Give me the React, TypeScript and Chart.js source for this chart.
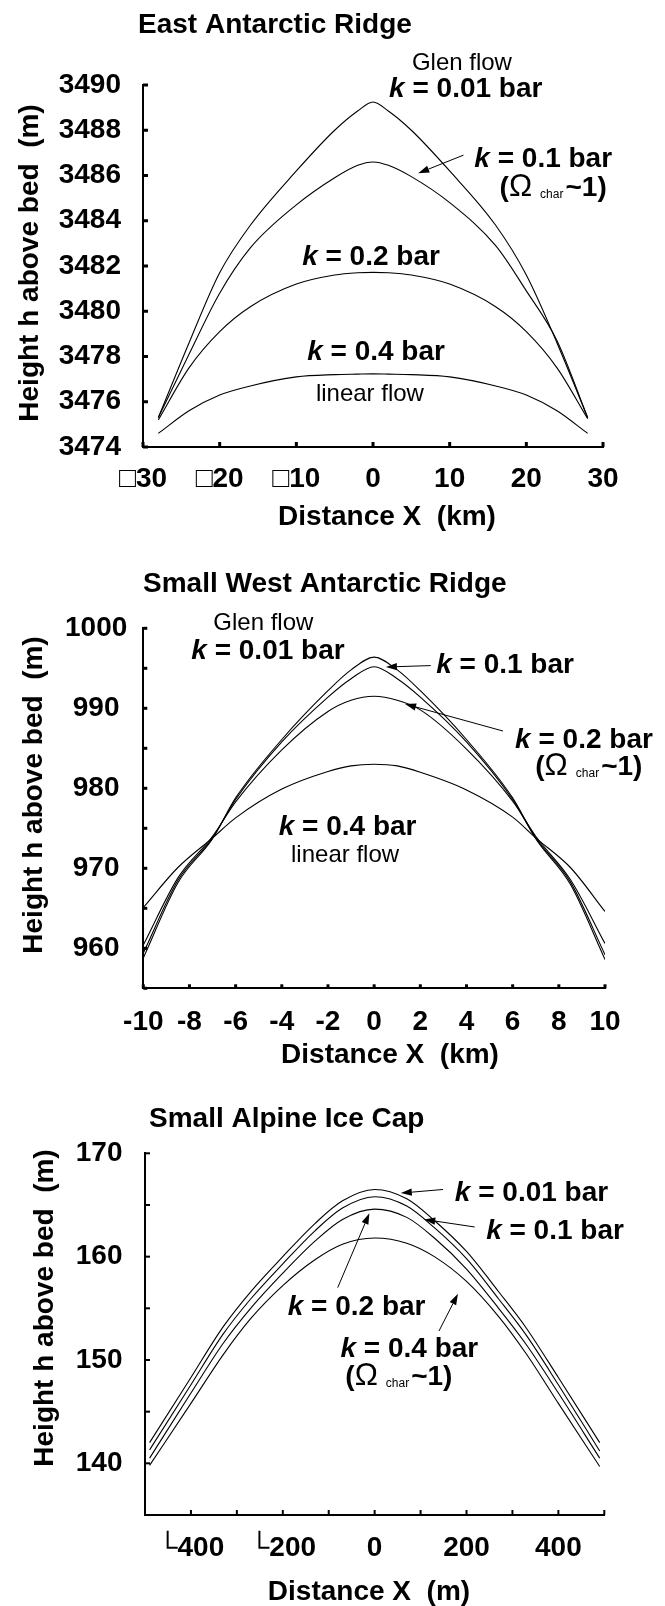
import React, { useEffect, useRef } from 'react';
import { Chart, registerables } from 'chart.js';

Chart.register(...registerables);

const FONT = "'Liberation Sans', Arial, Helvetica, sans-serif";

// ---------- East Antarctic Ridge (km, m) ----------
const eastX = [-28, -24, -20, -16, -10, -5, -2, 0, 2, 5, 10, 16, 20, 24, 28];
const eastK001 = [3475.3, 3478.6, 3481.7, 3483.8, 3486.2, 3488.0, 3488.85, 3489.25, 3488.85, 3488.0, 3486.2, 3483.8, 3481.6, 3478.6, 3475.3];
const eastK01 = [3475.3, 3478.1, 3480.8, 3482.8, 3484.7, 3485.9, 3486.45, 3486.6, 3486.45, 3485.95, 3484.8, 3482.9, 3480.9, 3478.7, 3475.3];
const eastK02 = [3475.2, 3477.5, 3479.1, 3480.2, 3481.2, 3481.6, 3481.7, 3481.72, 3481.7, 3481.6, 3481.2, 3480.2, 3479.1, 3477.5, 3475.25];
const eastK04 = [3474.6, 3475.6, 3476.3, 3476.7, 3477.1, 3477.2, 3477.22, 3477.23, 3477.22, 3477.2, 3477.1, 3476.7, 3476.3, 3475.6, 3474.6];

// ---------- Small West Antarctic Ridge (km, m) ----------
const westX = [-10, -8.5, -7, -6, -4, -2, -1, 0, 1, 2, 4, 6, 7, 8.5, 10];
const westK001 = [958.8, 968.2, 973.7, 978.8, 986.1, 992.2, 994.8, 996.4, 994.8, 992.2, 986.1, 978.8, 973.7, 968.0, 958.6];
const westK01 = [959.4, 968.5, 973.8, 978.6, 985.8, 991.4, 993.7, 995.2, 993.7, 991.4, 985.8, 978.6, 973.8, 968.3, 959.2];
const westK02 = [960.4, 968.8, 974.0, 978.3, 984.8, 989.6, 991.0, 991.5, 991.0, 989.8, 984.9, 978.4, 974.0, 968.6, 960.6];
const westK04 = [965.1, 970.1, 973.8, 976.3, 979.9, 982.1, 982.8, 983.0, 982.8, 982.0, 979.8, 976.4, 973.8, 970.1, 964.6];

// ---------- Small Alpine Ice Cap (m, m) ----------
const alpX = [-490, -400, -330, -270, -200, -130, -70, 0, 70, 130, 200, 270, 330, 400, 490];
const alpK001 = [142.0, 148.3, 153.2, 156.6, 160.0, 163.2, 165.4, 166.5, 165.6, 163.5, 160.5, 156.6, 153.1, 148.3, 142.0];
const alpK01 = [141.3, 147.6, 152.5, 155.9, 159.3, 162.5, 164.7, 165.8, 164.9, 162.8, 159.8, 155.9, 152.4, 147.6, 141.2];
const alpK02 = [140.5, 146.8, 151.6, 155.0, 158.4, 161.5, 163.6, 164.6, 163.8, 161.8, 158.8, 155.0, 151.5, 146.8, 140.5];
const alpK04 = [139.8, 145.8, 150.5, 154.0, 157.2, 159.7, 161.2, 161.8, 161.3, 160.0, 157.6, 154.2, 150.6, 145.8, 139.7];

// ---------- text labels ----------
const titles = ['East Antarctic Ridge', 'Small West Antarctic Ridge', 'Small Alpine Ice Cap'];
const xTitles = ['Distance X  (km)', 'Distance X  (km)', 'Distance X  (m)'];
const yTitle = 'Height h above bed  (m)';

type Note =
  | { kind: 'k'; value: string; x: number; y: number }
  | { kind: 'plain'; text: string; x: number; y: number }
  | { kind: 'omega'; x: number; y: number };
type Arrow = { x1: number; y1: number; x2: number; y2: number };

// annotation anchors in data units
const eastNotes: Note[] = [
  { kind: 'plain', text: 'Glen flow', x: 11.6, y: 3491.06 },
  { kind: 'k', value: '0.01', x: 12.1, y: 3489.9 },
  { kind: 'k', value: '0.1', x: 22.2, y: 3486.82 },
  { kind: 'omega', x: 23.5, y: 3485.4 },
  { kind: 'k', value: '0.2', x: -0.26, y: 3482.5 },
  { kind: 'k', value: '0.4', x: 0.4, y: 3478.3 },
  { kind: 'plain', text: 'linear flow', x: -0.4, y: 3476.4 },
];
const eastArrows: Arrow[] = [{ x1: 11.8, y1: 3486.9, x2: 5.9, y2: 3486.1 }];

const westNotes: Note[] = [
  { kind: 'plain', text: 'Glen flow', x: -4.8, y: 1000.9 },
  { kind: 'k', value: '0.01', x: -4.6, y: 997.45 },
  { kind: 'k', value: '0.1', x: 5.67, y: 995.66 },
  { kind: 'k', value: '0.2', x: 9.09, y: 986.3 },
  { kind: 'omega', x: 9.3, y: 982.5 },
  { kind: 'k', value: '0.4', x: -1.15, y: 975.4 },
  { kind: 'plain', text: 'linear flow', x: -1.26, y: 971.9 },
];
const westArrows: Arrow[] = [
  { x1: 2.45, y1: 995.34, x2: 0.51, y2: 995.16 },
  { x1: 5.58, y1: 987.16, x2: 1.34, y2: 990.54 },
];

const alpNotes: Note[] = [
  { kind: 'k', value: '0.01', x: 341.5, y: 166.4 },
  { kind: 'k', value: '0.1', x: 392.7, y: 162.7 },
  { kind: 'k', value: '0.2', x: -39.3, y: 155.3 },
  { kind: 'k', value: '0.4', x: 75.5, y: 151.26 },
  { kind: 'omega', x: 52.8, y: 148.24 },
];
const alpArrows: Arrow[] = [
  { x1: 149, y1: 166.5, x2: 57, y2: 166.15 },
  { x1: 217.8, y1: 162.87, x2: 107.9, y2: 163.6 },
  { x1: -80.5, y1: 157.0, x2: -11.5, y2: 164.2 },
  { x1: 140, y1: 152.8, x2: 181.3, y2: 156.4 },
];

interface Spec {
  top: number;
  height: number;
  xs: number[];
  series: number[][];
  xMin: number; xMax: number; xStep: number;
  yMin: number; yMax: number; yStep: number;
  xLabel: (v: number) => string;
  yLabel: (v: number) => string;
  area: { left: number; right: number; top: number; bottom: number };
  xPad: number; yPad: number;
  tickLen: number; tickW: number;
  title: string; titleX: number; titleBase: number; titleSize: number;
  xTitle: string; xTitleX: number; xTitleBase: number;
  yTitleX: number; yTitleY: number;
  notes: Note[]; arrows: Arrow[];
}

const neg = (glyph: string) => (v: number) => (v < 0 ? glyph + String(-v) : String(v));

const specs: Spec[] = [
  {
    top: 0, height: 540, xs: eastX, series: [eastK001, eastK01, eastK02, eastK04],
    xMin: -30, xMax: 30, xStep: 10, yMin: 3474, yMax: 3490, yStep: 2,
    xLabel: neg('\u25A1'), yLabel: (v) => String(v),
    area: { left: 143, right: 603, top: 85, bottom: 447 },
    xPad: 7, yPad: 14, tickLen: 5, tickW: 3,
    title: titles[0], titleX: 138, titleBase: 33, titleSize: 28,
    xTitle: xTitles[0], xTitleX: 387, xTitleBase: 525,
    yTitleX: 30, yTitleY: 263,
    notes: eastNotes, arrows: eastArrows,
  },
  {
    top: 540, height: 540, xs: westX, series: [westK001, westK01, westK02, westK04],
    xMin: -10, xMax: 10, xStep: 2, yMin: 955, yMax: 1000, yStep: 5,
    xLabel: (v) => String(v), yLabel: (v) => (v % 10 === 0 ? String(v) : ''),
    area: { left: 143.3, right: 605, top: 88.3, bottom: 448.3 },
    xPad: 9, yPad: 8, tickLen: 4, tickW: 3,
    title: titles[1], titleX: 143, titleBase: 52, titleSize: 28,
    xTitle: xTitles[1], xTitleX: 390, xTitleBase: 523,
    yTitleX: 34, yTitleY: 255,
    notes: westNotes, arrows: westArrows,
  },
  {
    top: 1080, height: 526, xs: alpX, series: [alpK001, alpK01, alpK02, alpK04],
    xMin: -500, xMax: 500, xStep: 100, yMin: 135, yMax: 170, yStep: 5,
    xLabel: (v) => (v % 200 === 0 && Math.abs(v) < 500 ? neg('\u2514')(v) : ''),
    yLabel: (v) => (v % 10 === 0 ? String(v) : ''),
    area: { left: 145, right: 604.3, top: 73.3, bottom: 435 },
    xPad: 8, yPad: 14.5, tickLen: 5, tickW: 2,
    title: titles[2], titleX: 149, titleBase: 47, titleSize: 28,
    xTitle: xTitles[2], xTitleX: 369, xTitleBase: 520,
    yTitleX: 45, yTitleY: 228,
    notes: alpNotes, arrows: alpArrows,
  },
];

function drawArrow(ctx: CanvasRenderingContext2D, x1: number, y1: number, x2: number, y2: number) {
  const ang = Math.atan2(y2 - y1, x2 - x1);
  const L = 11;
  const W = 3.6;
  const bx = x2 - L * Math.cos(ang);
  const by = y2 - L * Math.sin(ang);
  ctx.lineWidth = 1;
  ctx.beginPath();
  ctx.moveTo(x1, y1);
  ctx.lineTo(bx, by);
  ctx.stroke();
  ctx.beginPath();
  ctx.moveTo(x2, y2);
  ctx.lineTo(bx + W * Math.sin(ang), by - W * Math.cos(ang));
  ctx.lineTo(bx - W * Math.sin(ang), by + W * Math.cos(ang));
  ctx.closePath();
  ctx.fill();
}

function drawPieces(ctx: CanvasRenderingContext2D, pieces: { t: string; f: string; dy?: number; gap?: number }[], cx: number, base: number) {
  let total = 0;
  const widths = pieces.map((p) => {
    ctx.font = p.f;
    const w = ctx.measureText(p.t).width + (p.gap || 0);
    total += w;
    return w;
  });
  let x = cx - total / 2;
  ctx.textAlign = 'left';
  ctx.textBaseline = 'alphabetic';
  pieces.forEach((p, i) => {
    ctx.font = p.f;
    ctx.fillText(p.t, x, base + (p.dy || 0));
    x += widths[i];
  });
}

function makeDecor(s: Spec) {
  return {
    id: 'decor',
    beforeDraw(chart: any) {
      const ctx = chart.ctx;
      ctx.save();
      ctx.fillStyle = '#fff';
      ctx.fillRect(0, 0, chart.width, chart.height);
      ctx.restore();
    },
    afterDraw(chart: any) {
      const ctx: CanvasRenderingContext2D = chart.ctx;
      const xs = chart.scales.x;
      const ys = chart.scales.y;
      const ca = chart.chartArea;
      ctx.save();
      ctx.fillStyle = '#000';
      ctx.strokeStyle = '#000';
      // inward tick marks
      for (const t of xs.ticks) {
        const px = xs.getPixelForValue(t.value);
        ctx.fillRect(px - s.tickW / 2, ca.bottom - s.tickLen, s.tickW, s.tickLen);
      }
      for (const t of ys.ticks) {
        const py = ys.getPixelForValue(t.value);
        ctx.fillRect(ca.left, py - s.tickW / 2, s.tickLen, s.tickW);
      }
      // chart title
      ctx.textAlign = 'left';
      ctx.textBaseline = 'alphabetic';
      ctx.font = `bold ${s.titleSize}px ${FONT}`;
      ctx.fillText(s.title, s.titleX, s.titleBase);
      // x axis title
      ctx.textAlign = 'center';
      ctx.font = `bold 28px ${FONT}`;
      ctx.fillText(s.xTitle, s.xTitleX, s.xTitleBase);
      // y axis title
      ctx.save();
      ctx.translate(s.yTitleX, s.yTitleY);
      ctx.rotate(-Math.PI / 2);
      ctx.textAlign = 'center';
      ctx.textBaseline = 'middle';
      ctx.fillText(yTitle, 0, 0);
      ctx.restore();
      // annotations
      const bold = `bold 28px ${FONT}`;
      for (const n of s.notes) {
        const px = xs.getPixelForValue(n.x);
        const py = ys.getPixelForValue(n.y);
        if (n.kind === 'plain') {
          ctx.font = `24px ${FONT}`;
          ctx.textAlign = 'center';
          ctx.textBaseline = 'alphabetic';
          ctx.fillText(n.text, px, py + 8.6);
        } else if (n.kind === 'k') {
          drawPieces(ctx, [
            { t: 'k', f: `italic bold 28px ${FONT}` },
            { t: ' = ' + n.value + ' bar', f: bold },
          ], px, py + 10);
        } else {
          drawPieces(ctx, [
            { t: '(', f: bold },
            { t: '\u03A9', f: `31px ${FONT}`, gap: 8 },
            { t: 'char', f: `12px ${FONT}`, dy: 2, gap: 2 },
            { t: '~1)', f: bold },
          ], px, py + 7);
        }
      }
      for (const a of s.arrows) {
        drawArrow(
          ctx,
          xs.getPixelForValue(a.x1), ys.getPixelForValue(a.y1),
          xs.getPixelForValue(a.x2), ys.getPixelForValue(a.y2)
        );
      }
      ctx.restore();
    },
  };
}

function buildConfig(s: Spec): any {
  const datasets = s.series.map((ys) => ({
    data: s.xs.map((x, i) => ({ x, y: ys[i] })),
    borderColor: '#000',
    borderWidth: 1.1,
    pointRadius: 0,
    fill: false,
    cubicInterpolationMode: 'monotone',
  }));
  const tickFont = { family: FONT, size: 28, weight: 'bold' };
  return {
    type: 'line',
    data: { datasets },
    options: {
      responsive: false,
      animation: false,
      devicePixelRatio: 1,
      layout: { padding: { left: 0, top: s.area.top, right: 665 - s.area.right, bottom: 0 } },
      plugins: { legend: { display: false }, tooltip: { enabled: false }, title: { display: false } },
      scales: {
        x: {
          type: 'linear',
          min: s.xMin,
          max: s.xMax,
          afterFit: (sc: any) => { sc.height = s.height - s.area.bottom; },
          grid: { display: false },
          border: { display: true, color: '#000', width: 2 },
          ticks: {
            stepSize: s.xStep,
            autoSkip: false,
            maxRotation: 0,
            minRotation: 0,
            padding: s.xPad,
            color: '#000',
            font: tickFont,
            callback: (v: any) => s.xLabel(Number(v)),
          },
        },
        y: {
          type: 'linear',
          min: s.yMin,
          max: s.yMax,
          afterFit: (sc: any) => { sc.width = s.area.left; },
          grid: { display: false },
          border: { display: true, color: '#000', width: 2 },
          ticks: {
            stepSize: s.yStep,
            autoSkip: false,
            crossAlign: 'center',
            padding: s.yPad,
            color: '#000',
            font: tickFont,
            callback: (v: any) => s.yLabel(Number(v)),
          },
        },
      },
    },
    plugins: [makeDecor(s)],
  };
}

function Panel({ spec }: { spec: Spec }) {
  const ref = useRef<HTMLCanvasElement>(null);
  useEffect(() => {
    if (!ref.current) return;
    const chart = new Chart(ref.current, buildConfig(spec));
    return () => chart.destroy();
  }, [spec]);
  return (
    <canvas
      ref={ref}
      width={665}
      height={spec.height}
      style={{ position: 'absolute', left: 0, top: spec.top, width: 665, height: spec.height, display: 'block' }}
    />
  );
}

export default function App() {
  return (
    <div style={{ position: 'absolute', left: 0, top: 0, width: 665, height: 1606, background: '#fff' }}>
      {specs.map((s, i) => (
        <Panel key={i} spec={s} />
      ))}
    </div>
  );
}
